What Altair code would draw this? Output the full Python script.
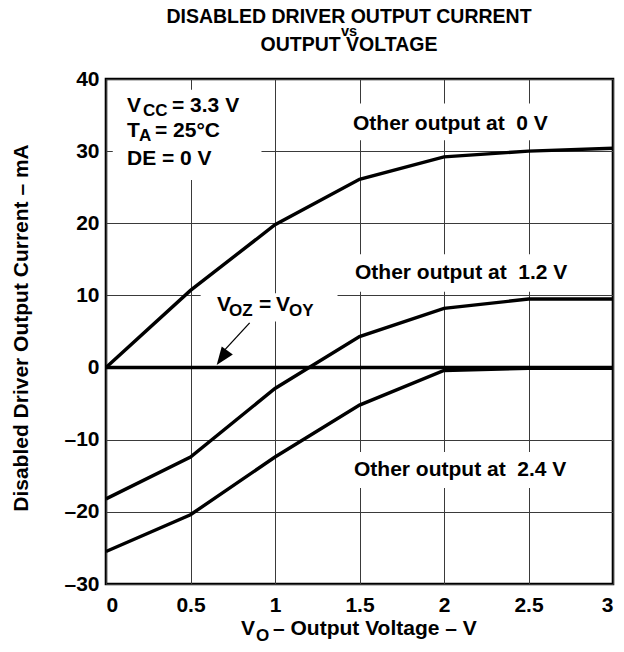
import altair as alt
import pandas as pd

# ---- data ----
vo = [0, 0.5, 1, 1.5, 2, 2.5, 3]
i_other_0v = [0, 10.7, 19.8, 26.1, 29.2, 30.0, 30.4]
i_other_12v = [-18.2, -12.4, -2.9, 4.3, 8.2, 9.5, 9.5]
i_other_24v = [-25.5, -20.4, -12.4, -5.2, -0.4, -0.1, -0.1]
i_voz_voy = [0, 0, 0, 0, 0, 0, 0]
series_names = ["Other output at 0 V", "Other output at 1.2 V",
                "Other output at 2.4 V", "VOZ = VOY"]

x_ticks = [0, 0.5, 1, 1.5, 2, 2.5, 3]
y_ticks = [-30, -20, -10, 0, 10, 20, 30, 40]

rows = []
for name, vals in zip(series_names, [i_other_0v, i_other_12v, i_other_24v, i_voz_voy]):
    for v, c in zip(vo, vals):
        rows.append({"series": name, "vo": v, "cur": c})
df = pd.DataFrame(rows)

# white label backgrounds (data units)
box_x1 = [0.04, 1.40, 1.40, 0.56, 1.40]
box_x2 = [0.92, 2.70, 2.80, 1.37, 2.78]
box_y1 = [26.0, 31.5, 10.5, 6.4, -16.7]
box_y2 = [38.5, 36.6, 15.7, 10.3, -11.7]
boxes = pd.DataFrame({"vo": box_x1, "vo2": box_x2, "cur": box_y1, "cur2": box_y2})

arrow = pd.DataFrame({"vo": [0.85], "cur": [6.2], "vo2": [0.685], "cur2": [2.0]})
arrow_tip = pd.DataFrame({"vo": [0.655], "cur": [0.35]})

W, H = 507, 505
FONT = "Liberation Sans, Arial, Helvetica, sans-serif"

xscale = alt.Scale(domain=[0, 3], nice=False, zero=False)
yscale = alt.Scale(domain=[-30, 40], nice=False)

xaxis = alt.Axis(values=x_ticks, format="~g", grid=True, ticks=False, domain=False,
                 labelFont=FONT, labelFontSize=21, labelFontWeight="bold",
                 labelColor="black", labelPadding=10, title=None,
                 gridColor="#3a3a3a", gridWidth=1)
yaxis = alt.Axis(values=y_ticks, grid=True, ticks=False, domain=False,
                 labelExpr="datum.value < 0 ? '\u2013' + abs(datum.value) : '' + datum.value",
                 labelFont=FONT, labelFontSize=21, labelFontWeight="bold",
                 labelColor="black", labelPadding=7, title=None,
                 gridColor="#3a3a3a", gridWidth=1)

X = alt.X("vo:Q", scale=xscale, axis=xaxis)
Y = alt.Y("cur:Q", scale=yscale, axis=yaxis)

bg = alt.Chart(boxes).mark_rect(color="white").encode(
    x=X, x2="vo2:Q", y=Y, y2="cur2:Q")

lines = alt.Chart(df).mark_line(color="black", strokeWidth=3.4).encode(
    x=X, y=Y, detail="series:N")

arrow_line = alt.Chart(arrow).mark_rule(color="black", strokeWidth=1.3).encode(
    x=X, y=Y, x2="vo2:Q", y2="cur2:Q")

arrow_head = alt.Chart(arrow_tip).mark_point(
    shape="M0,0 L-0.38,1 L0.38,1 Z", filled=True, color="black", opacity=1,
    size=1300, angle=216).encode(x=X, y=Y)


def label(text, x, y, size=21, align="left", angle=0):
    return alt.Chart(pd.DataFrame({"t": [text]})).mark_text(
        align=align, baseline="alphabetic", font=FONT, fontSize=size,
        fontWeight="bold", color="black", angle=angle
    ).encode(x=alt.value(x), y=alt.value(y), text="t:N")


NB = "\u00a0"
texts = [
    # title
    label("DISABLED DRIVER OUTPUT CURRENT", 243, -56.5, 19.5, "center"),
    label("vs", 243, -43.5, 14.5, "center"),
    label("OUTPUT VOLTAGE", 243, -28, 19.5, "center"),
    # conditions
    label("V", 21, 33), label("CC", 37, 37, 17), label("= 3.3 V", 66, 33),
    label("T", 21, 58), label("A", 33, 62, 17), label("= 25\u00b0C", 49, 58),
    label("DE = 0 V", 21, 86),
    # curve labels
    label("Other output at " + NB + "0 V", 247, 51),
    label("Other output at " + NB + "1.2 V", 249, 200),
    label("Other output at " + NB + "2.4 V", 248, 397),
    # VOZ = VOY
    label("V", 111, 232), label("OZ", 123, 237, 17), label("=", 153, 232),
    label("V", 170, 232), label("OY", 183, 237, 17),
    # x-axis title
    label("V", 135, 556), label("O", 150, 561.5, 17),
    label("\u2013 Output Voltage \u2013 V", 167, 556),
    # y-axis title
    label("Disabled Driver Output Current \u2013 mA", -78, 249, 21, "center", 270),
]

chart = alt.layer(bg, lines, arrow_line, arrow_head, *texts).properties(
    width=W, height=H,
    padding={"left": 98, "top": 71, "right": 3, "bottom": 60},
    autosize=alt.AutoSizeParams(type="none"),
).configure_view(stroke="black", strokeWidth=2.6)

chart.save("out.html", embed_options={"renderer": "svg", "actions": False})
